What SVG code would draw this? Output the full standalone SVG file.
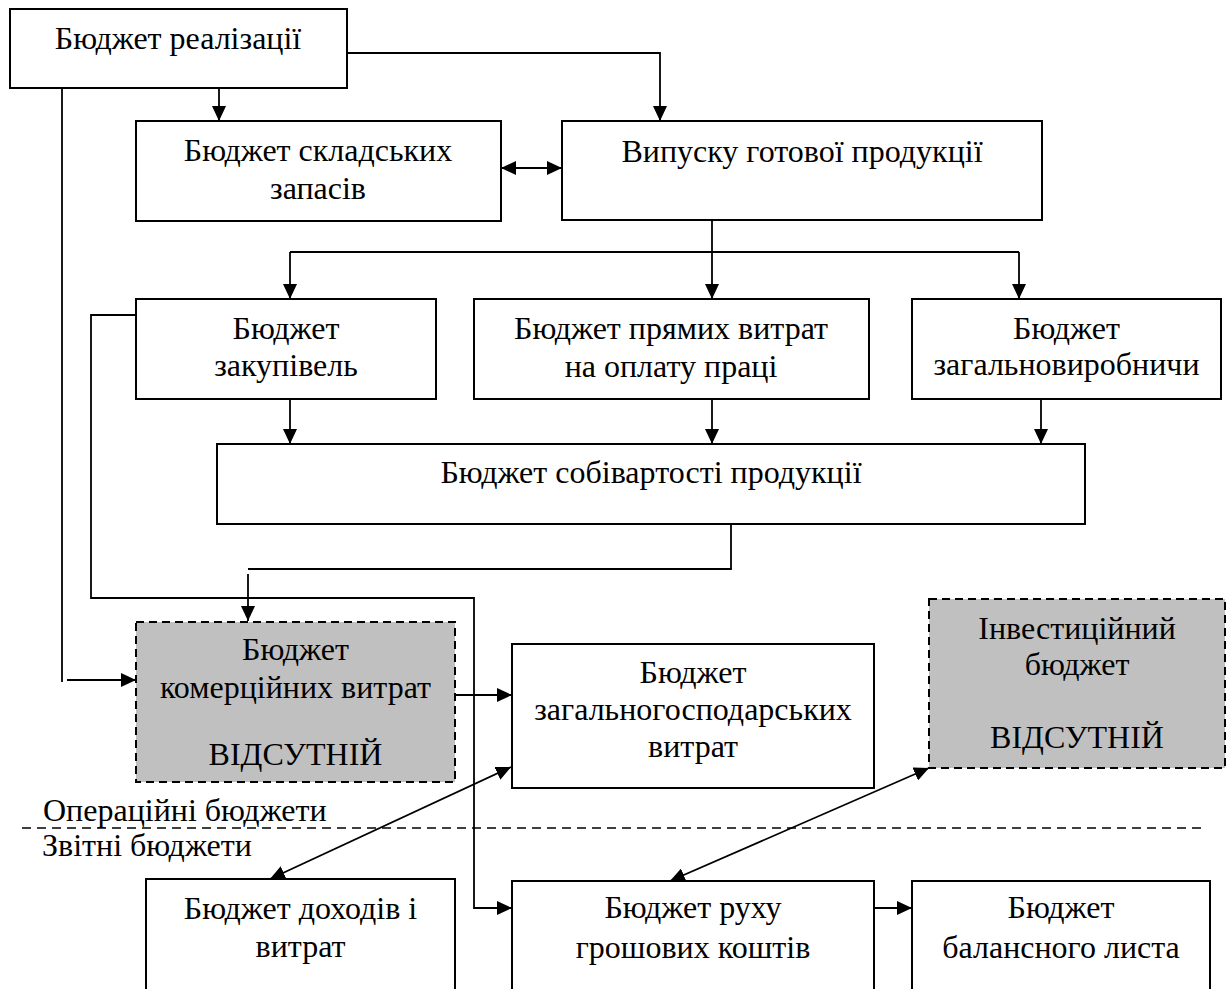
<svg xmlns="http://www.w3.org/2000/svg" width="1232" height="989" viewBox="0 0 1232 989">
  <style>
    .box { fill: #ffffff; stroke: #000000; stroke-width: 2; }
    .absent { fill: #c0c0c0; stroke: #000000; stroke-width: 2; stroke-dasharray: 8 5; }
    .lbl { font-family: "Liberation Serif", "Times New Roman", serif; font-size: 32px; fill: #000000; text-anchor: middle; }
    .note { font-family: "Liberation Serif", "Times New Roman", serif; font-size: 32px; fill: #000000; text-anchor: start; }
    .wire { fill: none; stroke: #000000; stroke-width: 1.8; }
    .sep { fill: none; stroke: #000000; stroke-width: 1.6; stroke-dasharray: 9 6; }
  </style>
  <defs>
    <marker id="head" viewBox="0 0 15 14" refX="15" refY="7" markerWidth="15" markerHeight="14" markerUnits="userSpaceOnUse" orient="auto-start-reverse">
      <path d="M0,0 L15,7 L0,14 z" fill="#000000"/>
    </marker>
  </defs>

  <rect width="1232" height="989" fill="#ffffff"/>

  <!-- connectors -->
  <g id="connectors">
    <path class="wire" d="M347,53 H660 V121" marker-end="url(#head)"/>
    <path class="wire" d="M219,88 V121" marker-end="url(#head)"/>
    <path class="wire" d="M501,168 H562" marker-start="url(#head)" marker-end="url(#head)"/>
    <path class="wire" d="M712,221 V299" marker-end="url(#head)"/>
    <path class="wire" d="M290,252 H1019"/>
    <path class="wire" d="M290,252 V299" marker-end="url(#head)"/>
    <path class="wire" d="M1019,252 V299" marker-end="url(#head)"/>
    <path class="wire" d="M290,399 V444" marker-end="url(#head)"/>
    <path class="wire" d="M712,399 V444" marker-end="url(#head)"/>
    <path class="wire" d="M1041,399 V444" marker-end="url(#head)"/>
    <path class="wire" d="M731,524 V569 H248"/>
    <path class="wire" d="M248,574 V621" marker-end="url(#head)"/>
    <path class="wire" d="M136,315 H91 V598 H474 V908 H512" marker-end="url(#head)"/>
    <path class="wire" d="M62,88 V682"/>
    <path class="wire" d="M67,680 H136" marker-end="url(#head)"/>
    <path class="wire" d="M455,695 H512" marker-end="url(#head)"/>
    <path class="wire" d="M511,767 L270,879" marker-start="url(#head)" marker-end="url(#head)"/>
    <path class="wire" d="M929,768 L670,881" marker-start="url(#head)" marker-end="url(#head)"/>
    <path class="wire" d="M874,908 H912" marker-end="url(#head)"/>
  </g>

  <!-- section divider -->
  <g id="divider">
    <path class="sep" d="M22,828 H1206"/>
    <text class="note" x="43" y="821">Операційні бюджети</text>
    <text class="note" x="42" y="856">Звітні бюджети</text>
  </g>

  <g id="sales">
    <rect class="box" x="10" y="9" width="337" height="79"/>
    <text class="lbl" x="178" y="49">Бюджет реалізації</text>
  </g>

  <g id="inventory">
    <rect class="box" x="136" y="121" width="365" height="100"/>
    <text class="lbl" x="318" y="161">Бюджет складських</text>
    <text class="lbl" x="318" y="199">запасів</text>
  </g>

  <g id="production">
    <rect class="box" x="562" y="121" width="480" height="99"/>
    <text class="lbl" x="802" y="162">Випуску готової продукції</text>
  </g>

  <g id="purchases">
    <rect class="box" x="136" y="299" width="300" height="100"/>
    <text class="lbl" x="286" y="339">Бюджет</text>
    <text class="lbl" x="286" y="376">закупівель</text>
  </g>

  <g id="labour">
    <rect class="box" x="474" y="299" width="395" height="100"/>
    <text class="lbl" x="671" y="339">Бюджет прямих витрат</text>
    <text class="lbl" x="671" y="377">на оплату праці</text>
  </g>

  <g id="overhead">
    <rect class="box" x="912" y="299" width="309" height="100"/>
    <text class="lbl" x="1066.5" y="339">Бюджет</text>
    <text class="lbl" x="1066.5" y="375">загальновиробничи</text>
  </g>

  <g id="cost">
    <rect class="box" x="217" y="444" width="868" height="80"/>
    <text class="lbl" x="651" y="483">Бюджет собівартості продукції</text>
  </g>

  <g id="selling">
    <rect class="absent" x="136" y="622" width="319" height="160"/>
    <text class="lbl" x="295.5" y="660">Бюджет</text>
    <text class="lbl" x="295.5" y="698">комерційних витрат</text>
    <text class="lbl" x="295.5" y="765">ВІДСУТНІЙ</text>
  </g>

  <g id="admin">
    <rect class="box" x="512" y="644" width="362" height="144"/>
    <text class="lbl" x="693" y="683">Бюджет</text>
    <text class="lbl" x="693" y="720">загальногосподарських</text>
    <text class="lbl" x="693" y="757">витрат</text>
  </g>

  <g id="investment">
    <rect class="absent" x="929" y="599" width="296" height="169"/>
    <text class="lbl" x="1077" y="639">Інвестиційний</text>
    <text class="lbl" x="1077" y="675">бюджет</text>
    <text class="lbl" x="1077" y="748">ВІДСУТНІЙ</text>
  </g>

  <g id="income">
    <rect class="box" x="146" y="879" width="309" height="130"/>
    <text class="lbl" x="300.5" y="919">Бюджет доходів і</text>
    <text class="lbl" x="300.5" y="957">витрат</text>
  </g>

  <g id="cashflow">
    <rect class="box" x="512" y="881" width="362" height="130"/>
    <text class="lbl" x="693" y="918">Бюджет руху</text>
    <text class="lbl" x="693" y="958">грошових коштів</text>
  </g>

  <g id="balance">
    <rect class="box" x="912" y="881" width="298" height="130"/>
    <text class="lbl" x="1061" y="918">Бюджет</text>
    <text class="lbl" x="1061" y="958">балансного листа</text>
  </g>
</svg>
